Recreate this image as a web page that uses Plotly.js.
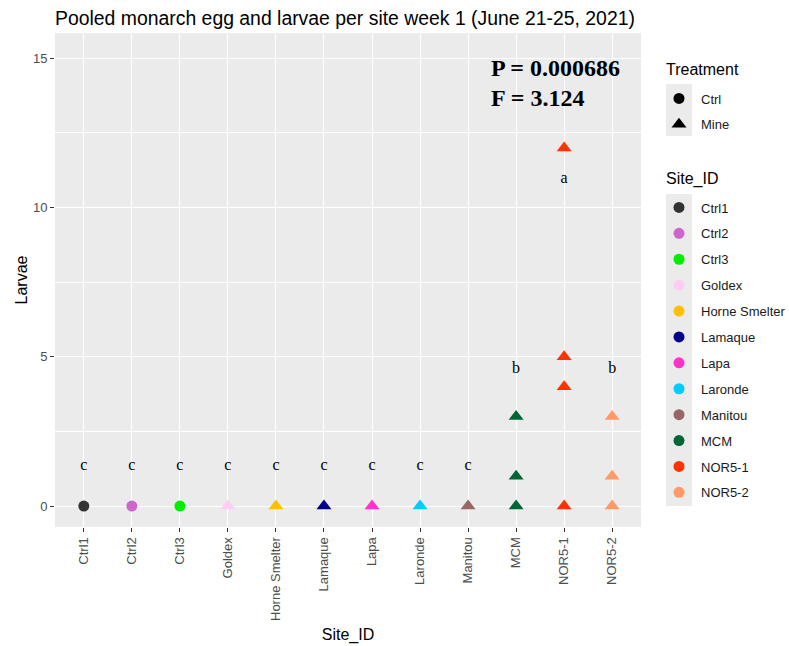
<!DOCTYPE html>
<html><head><meta charset="utf-8">
<script src="https://cdn.plot.ly/plotly-3.0.1.min.js"></script>
<style>html,body{margin:0;padding:0;background:#fff}#chart{width:789px;height:646px}</style>
</head><body><div id="chart"></div>
<script>
// ---- data ----
const sites = ['Ctrl1','Ctrl2','Ctrl3','Goldex','Horne Smelter','Lamaque','Lapa','Laronde','Manitou','MCM','NOR5-1','NOR5-2'];
const siteTreatment = ['Ctrl','Ctrl','Ctrl','Mine','Mine','Mine','Mine','Mine','Mine','Mine','Mine','Mine'];
const obsSite = ['Ctrl1','Ctrl2','Ctrl3','Goldex','Horne Smelter','Lamaque','Lapa','Laronde','Manitou',
                 'MCM','MCM','MCM','NOR5-1','NOR5-1','NOR5-1','NOR5-1','NOR5-2','NOR5-2','NOR5-2'];
const obsLarvae = [0,0,0,0,0,0,0,0,0, 0,1,3, 0,4,5,12, 0,1,3];
const groupLetters = ['c','c','c','c','c','c','c','c','c','b','a','b'];
const letterY = [1.35,1.35,1.35,1.35,1.35,1.35,1.35,1.35,1.35,4.6,10.95,4.6];
const treatments = ['Ctrl','Mine'];
const statLines = ['P = 0.000686','F = 3.124'];
const legendTitles = ['Treatment','Site_ID'];

// ---- styles ----
const siteColors = ['#333333','#CC66CC','#00EE00','#FFCCF5','#FFC000','#00008B','#FF33CC','#00CCFF','#996666','#006633','#FF3300','#FF9966'];
const treatSymbols = {Ctrl:'circle', Mine:'triangle-up'};
const symSize = {Ctrl:11, Mine:13};
const FONT = 'Liberation Sans, Arial, sans-serif';
const SERIF = 'Liberation Serif, Times New Roman, serif';

const W = 789, H = 646, M = {l:55, r:148, t:33, b:119};
const PW = W - M.l - M.r, PH = H - M.t - M.b;
const px2x = px => (px - M.l) / PW;
const px2y = py => (H - M.b - py) / PH;

const traces = [];
sites.forEach((s, i) => {
  const ys = obsLarvae.filter((v, k) => obsSite[k] === s);
  const t = siteTreatment[i];
  traces.push({
    type:'scatter', mode:'markers', x: ys.map(() => s), y: ys,
    marker:{symbol: treatSymbols[t], size: symSize[t], color: siteColors[i], line:{width:0}},
    showlegend:false, name:s, hoverinfo:'x+y'
  });
});
traces.push({
  type:'scatter', mode:'text', x: sites, y: letterY, text: groupLetters,
  textposition:'middle center', textfont:{family:SERIF, size:16, color:'#000'},
  showlegend:false, hoverinfo:'skip', cliponaxis:false
});
treatments.forEach((t, i) => {
  traces.push({type:'scatter', mode:'markers', x:[null], y:[null], name:t,
    marker:{symbol: treatSymbols[t], size: symSize[t], color:'#000'},
    legend:'legend', legendgroup:'t'+i, showlegend:true, hoverinfo:'skip'});
});
sites.forEach((s, i) => {
  traces.push({type:'scatter', mode:'markers', x:[null], y:[null], name:s,
    marker:{symbol:'circle', size:11, color: siteColors[i]},
    legend:'legend2', legendgroup:'s'+i, showlegend:true, hoverinfo:'skip'});
});

const keyBox = (x0, y0, x1, y1) => ({type:'rect', xref:'paper', yref:'paper', layer:'below',
  x0:px2x(x0), x1:px2x(x1), y0:px2y(y1), y1:px2y(y0), fillcolor:'#EBEBEB', line:{width:0}});

const legendCommon = {
  xanchor:'left', yanchor:'top', bgcolor:'rgba(0,0,0,0)', borderwidth:0,
  font:{family:FONT, size:13, color:'#1A1A1A'}, itemwidth:34, tracegroupgap:6,
  traceorder:'grouped', itemclick:false, itemdoubleclick:false
};

const annotations = statLines.map((s, i) => ({
  text:'<b>' + s + '</b>', xref:'paper', yref:'paper', x:px2x(489), y:px2y(68 + 30*i),
  xanchor:'left', yanchor:'middle', showarrow:false,
  font:{family:SERIF, size:24, color:'#000'}
}));
legendTitles.forEach((t, i) => annotations.push({
  text:t, xref:'paper', yref:'paper', x:px2x(664), y:px2y([69, 179][i]),
  xanchor:'left', yanchor:'middle', showarrow:false,
  font:{family:FONT, size:16, color:'#000'}
}));

const layout = {
  width:W, height:H, margin:Object.assign({autoexpand:false}, M), paper_bgcolor:'#FFFFFF', plot_bgcolor:'#EBEBEB',
  font:{family:FONT, color:'#000'},
  title:{text:'Pooled monarch egg and larvae per site week 1 (June 21-25, 2021)',
    font:{family:FONT, size:19.4, color:'#000'}, xref:'paper', x:0, xanchor:'left',
    yref:'container', y:1 - 18/H, yanchor:'middle'},
  xaxis:{type:'category', categoryorder:'array', categoryarray:sites, range:[-0.6, 11.6],
    showgrid:true, gridcolor:'#FFFFFF', gridwidth:1.1, zeroline:false, showline:false,
    ticks:'outside', ticklen:4, tickwidth:1, tickcolor:'#333333', tickangle:-90,
    tickfont:{family:FONT, size:13, color:'#4D4D4D'}, automargin:false,
    title:{text:'Site_ID', font:{family:FONT, size:16, color:'#000'}, standoff:8}},
  yaxis:{range:[-0.7, 15.85], tickvals:[0,5,10,15], ticktext:['0','5','10','15'],
    showgrid:true, gridcolor:'#FFFFFF', gridwidth:1.1, zeroline:false, showline:false,
    minor:{tickvals:[2.5,7.5,12.5], showgrid:true, gridcolor:'#FFFFFF', gridwidth:0.55, ticks:''},
    ticks:'outside', ticklen:4, tickwidth:1, tickcolor:'#333333', automargin:false,
    tickfont:{family:FONT, size:13, color:'#4D4D4D'},
    title:{text:'Larvae', font:{family:FONT, size:16, color:'#000'}, standoff:1}},
  legend:Object.assign({}, legendCommon, {x:px2x(657), y:px2y(83.5)}),
  legend2:Object.assign({}, legendCommon, {x:px2x(657), y:px2y(192.5)}),
  shapes:[keyBox(666, 84, 692, 136), keyBox(666, 194, 692, 506)],
  annotations: annotations,
  showlegend:true, hovermode:'closest'
};

Plotly.newPlot('chart', traces, layout, {displayModeBar:false, staticPlot:false});
</script>
</body></html>
